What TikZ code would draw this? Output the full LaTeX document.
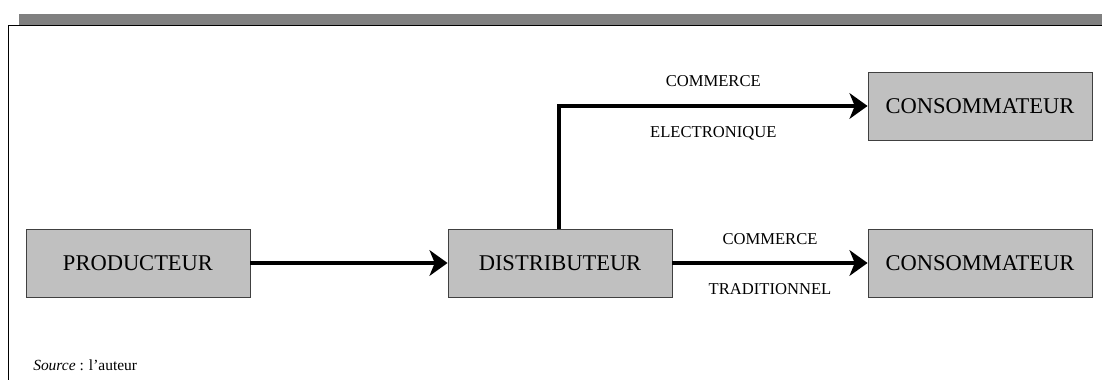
\documentclass[tikz,border=0pt]{standalone}
\usepackage{fontspec}
\setmainfont{Liberation Serif}
\usepackage{tikz}
\usetikzlibrary{arrows.meta, positioning}
\definecolor{BarGray}  {HTML}{808080}
\definecolor{BoxGray}  {HTML}{C0C0C0}
\definecolor{EdgeGray} {HTML}{404040}
\begin{document}
\begin{tikzpicture}[
		x=0.025cm, y=-0.025cm,
		actor/.style={draw=EdgeGray, fill=BoxGray, line width=0.6pt,
			minimum width=5.6cm, minimum height=1.7cm,
			font=\fontsize{16}{19}\selectfont, align=center, inner sep=0pt},
		lbl/.style={font=\fontsize{11.8}{14}\selectfont, inner sep=0pt},
		arr/.style={-{Stealth[length=4.5mm, width=6.4mm, inset=1.3mm]}, line width=2.9pt},
		]
		\useasboundingbox (0,0) rectangle (1102,380);
		% ── Frame and header bar ─────────────────────────────────────────────────────
		\fill[BarGray] (19,14) rectangle (1102,25);
		\draw[line width=0.9pt] (1102,25.5) -| (8.5,380);
		% ── Actors ───────────────────────────────────────────────────────────────────
		\node[actor] (prod)      at (138,263) {PRODUCTEUR};
		\node[actor] (distr)     at (560,263) {DISTRIBUTEUR};
		\node[actor] (consoBot)  at (980,263) {CONSOMMATEUR};
		\node[actor] (consoTop)  at (980,106) {CONSOMMATEUR};
		\coordinate (corner) at (559,106);
		% ── Flows ────────────────────────────────────────────────────────────────────
		\draw[arr] (prod) -- (distr);
		\draw[arr] (distr.east) -- (consoBot.west)
		node[midway, above=0.4cm, lbl]{COMMERCE}
		node[midway, below=0.45cm, lbl]{TRADITIONNEL};
		\draw[arr] (distr.north -| corner) -- (corner) -- (consoTop.west)
		node[midway, above=0.42cm, lbl]{COMMERCE}
		node[midway, below=0.45cm, lbl]{ELECTRONIQUE};
		% ── Source ───────────────────────────────────────────────────────────────────
		\node[lbl, anchor=west, font=\fontsize{11}{13}\selectfont] (src) at (33,365) {\textit{Source} : l'auteur};
	\end{tikzpicture}
\end{document}
